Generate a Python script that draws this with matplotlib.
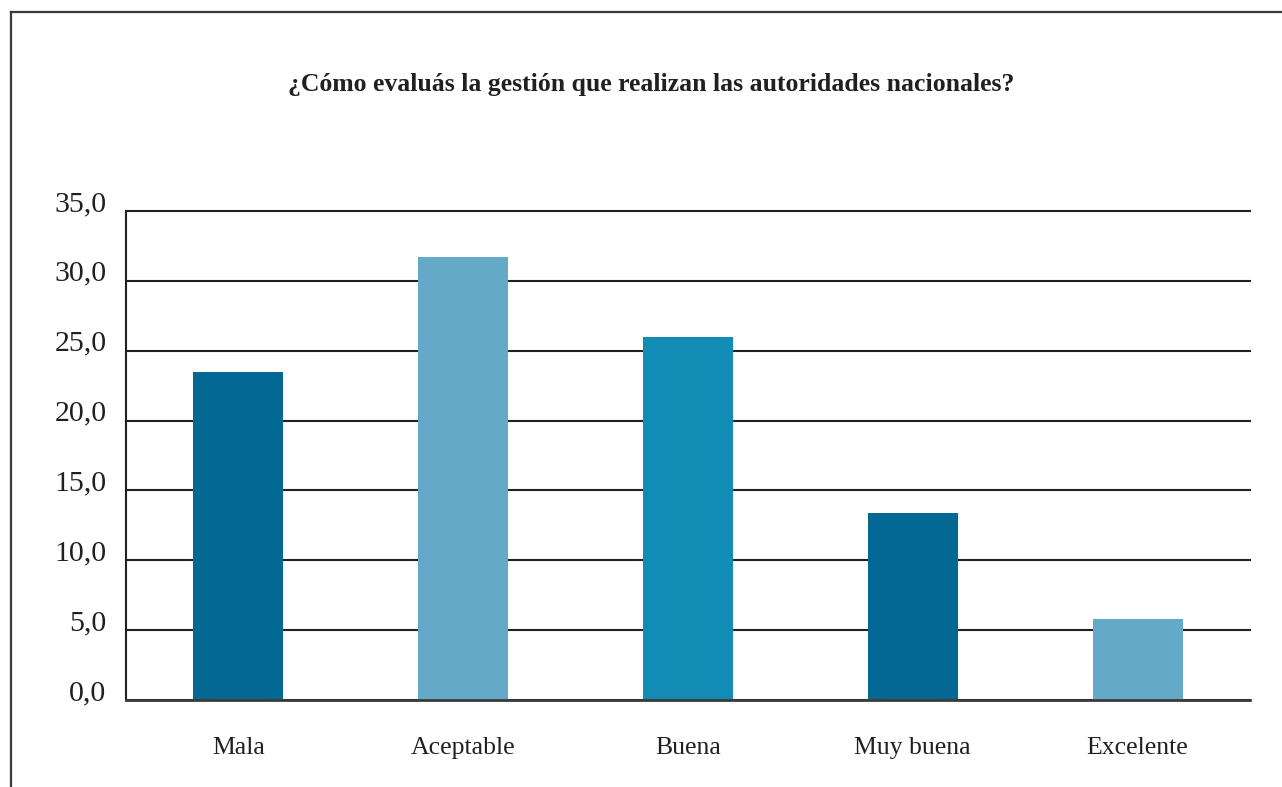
import matplotlib
matplotlib.use("Agg")
import matplotlib.pyplot as plt
from matplotlib.lines import Line2D

categories = ["Mala", "Aceptable", "Buena", "Muy buena", "Excelente"]
values = [23.5, 31.7, 26.0, 13.4, 5.8]
bar_colors = ["#036894", "#65A9C9", "#128CB4", "#036894", "#65A9C9"]
yticks = [0, 5, 10, 15, 20, 25, 30, 35]
title = "¿Cómo evaluás la gestión que realizan las autoridades nacionales?"

ink = "#231f20"
plt.rcParams['font.family'] = ['Liberation Serif', 'DejaVu Serif']

fig = plt.figure(figsize=(12.82, 7.87), dpi=100)
fig.patch.set_facecolor("white")
ax = fig.add_axes([126/1282, 87/787, 1124/1282, 489/787])

x = list(range(len(categories)))
ax.bar(x, values, width=0.4, color=bar_colors, zorder=3)
ax.set_xlim(-0.5, len(categories) - 0.5)
ax.set_ylim(0, 35)
ax.set_yticks(yticks)
ax.set_yticklabels([f"{v:.1f}".replace(".", ",") for v in yticks])
ax.set_xticks(x)
ax.set_xticklabels(categories)

ax.yaxis.grid(True, color=ink, linewidth=1.5, zorder=1)
ax.set_axisbelow(True)
for line in ax.get_ygridlines():
    line.set_clip_on(False)
for s in ["top", "right"]:
    ax.spines[s].set_visible(False)
ax.spines["left"].set_color(ink)
ax.spines["left"].set_linewidth(1.5)
ax.spines["bottom"].set_color("#3a3a3a")
ax.spines["bottom"].set_linewidth(2.0)
ax.spines["bottom"].set_zorder(4)

ax.tick_params(axis="y", length=0, pad=14, labelsize=21.5, labelcolor=ink)
ax.tick_params(axis="x", length=0, pad=39, labelsize=18.5, labelcolor=ink)
for lab in ax.get_yticklabels():
    lab.set_verticalalignment("baseline")
for lab in ax.get_xticklabels():
    lab.set_verticalalignment("baseline")

fig.text(651/1282, 1 - 84/787, title, ha="center", va="center",
         fontsize=18.5, fontweight="bold", color=ink)

# page frame (left and top edges)
fig.add_artist(Line2D([10.5/1282, 10.5/1282], [0, 1 - 11.5/787],
                      transform=fig.transFigure, color="#3a3a3a", linewidth=1.6))
fig.add_artist(Line2D([10.5/1282, 1], [1 - 11.5/787, 1 - 11.5/787],
                      transform=fig.transFigure, color="#3a3a3a", linewidth=1.6))

fig.savefig("out.png", dpi=100, facecolor="white")
